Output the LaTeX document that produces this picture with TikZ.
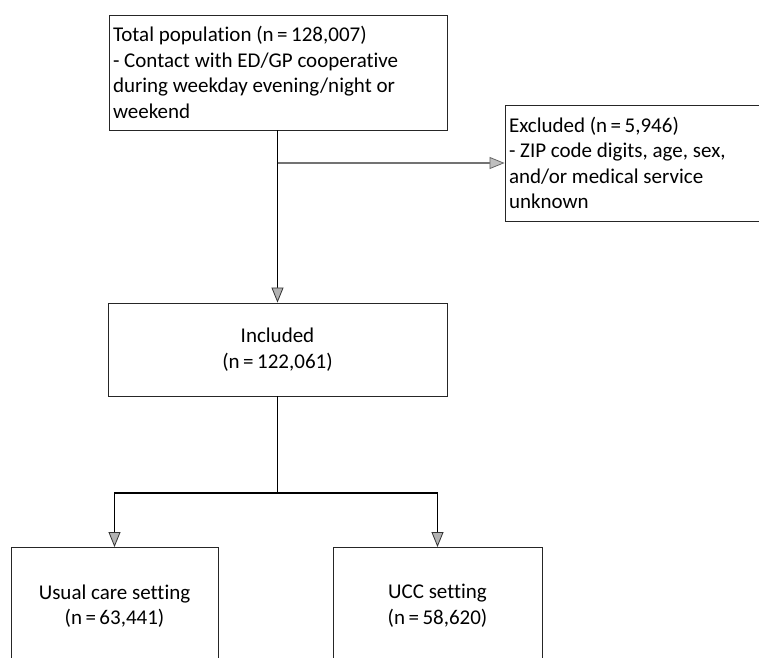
\documentclass[tikz,border=0pt]{standalone}
\usepackage{fontspec}
\setmainfont{Carlito}[Ligatures=NoCommon]
\usetikzlibrary{arrows.meta}
\begin{document}
\begin{tikzpicture}[x=1pt,y=1pt,
  box/.style={draw=black!85,line width=0.9pt,inner sep=4pt,
    font=\fontsize{21}{25.5}\selectfont},
  arr/.style={line width=1.3pt,draw=black,
    -{Triangle[length=15pt,width=12pt,color=black!80,fill=gray!60,line width=0.8pt]}},
  garr/.style={line width=1.8pt,draw=black!55,
    -{Triangle[length=15pt,width=12pt,color=black!60,fill=gray!50,line width=0.8pt]}}
]
\useasboundingbox (0,0) rectangle (759,-657);
\node[box,text width=330pt,align=flush left,minimum height=115pt] (top) at (278,-72.5)
  {Total population (n\,=\,128,007)\\- Contact with ED/GP cooperative during weekday evening/night or weekend};
\node[box,text width=252pt,align=flush left,minimum height=116pt] (excl) at (635,-163)
  {Excluded (n\,=\,5,946)\\- ZIP code digits, age, sex, and/or medical service unknown};
\node[box,minimum width=339pt,minimum height=93pt,align=center] (incl) at (277.5,-349.5)
  {Included\\(n\,=\,122,061)};
\node[box,minimum width=207pt,minimum height=117pt,align=center,anchor=north] (lb) at (114.5,-547)
  {Usual care setting\\(n\,=\,63,441)};
\node[box,minimum width=209pt,minimum height=117pt,align=center,anchor=north] (rb) at (437.5,-547)
  {UCC setting\\(n\,=\,58,620)};
\coordinate (br) at (incl.north |- excl.west);
\coordinate (sp) at (277.5,-493);
\draw[arr] (incl.north |- top.south) -- (incl.north);
\draw[garr] (br) -- (excl.west);
\draw[line width=1.3pt,draw=black] (incl.south) -- (sp);
\draw[arr] (sp) -| (lb.north);
\draw[arr] (sp) -| (rb.north);
\end{tikzpicture}
\end{document}
